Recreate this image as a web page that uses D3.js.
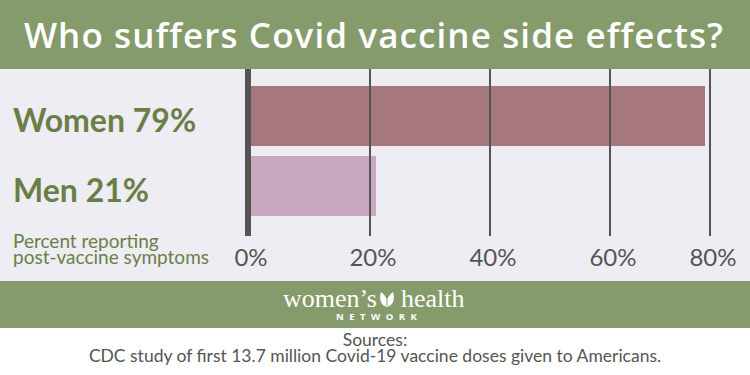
<!DOCTYPE html>
<html>
<head>
<meta charset="utf-8">
<script src="https://cdn.jsdelivr.net/npm/d3@7"></script>
<style>
  body { margin: 0; background: #fff; }
  svg { display: block; }
</style>
</head>
<body>
<div id="chart"></div>
<script>
// data
const categories = ["Women", "Men"];
const percents = [79, 21];
const tickValues = [0, 20, 40, 60, 80];
const titleText = "Who suffers Covid vaccine side effects?";
const axisNote = ["Percent reporting", "post-vaccine symptoms"];
const sourceLines = ["Sources:", "CDC study of first 13.7 million Covid-19 vaccine doses given to Americans."];

const W = 750, H = 375;
const green = "#869b6b";
const textGreen = "#6a7f47";
const gray = "#555555";
const barColors = ["#a6787e", "#c8a7bf"];

const svg = d3.select("#chart").append("svg")
  .attr("width", W)
  .attr("height", H);

// backgrounds
svg.append("rect").attr("x", 0).attr("y", 0).attr("width", W).attr("height", 69).attr("fill", green);
svg.append("rect").attr("x", 0).attr("y", 69).attr("width", W).attr("height", 212).attr("fill", "#eeedf3");
svg.append("rect").attr("x", 0).attr("y", 281).attr("width", W).attr("height", 47).attr("fill", green);

// title
svg.append("text")
  .attr("x", W / 2 - 1)
  .attr("y", 48)
  .attr("text-anchor", "middle")
  .style("font-family", "'Open Sans', sans-serif")
  .style("font-weight", 600)
  .style("font-size", "35px")
  .style("letter-spacing", "1.1px")
  .style("fill", "#fff")
  .text(titleText);

// scales (the graphic's gridlines are hand-spaced, so the x scale is piecewise)
const x = d3.scaleLinear()
  .domain(tickValues)
  .range([248, 370, 490, 610, 710]);

const y = d3.scaleBand()
  .domain(categories)
  .range([81, 221])
  .paddingInner(1 / 7)
  .paddingOuter(1 / 14);

const rows = categories.map((c, i) => ({ cat: c, pct: percents[i], color: barColors[i] }));

// bars
svg.selectAll(".bar")
  .data(rows)
  .enter().append("rect")
  .attr("class", "bar")
  .attr("x", x(0))
  .attr("y", d => y(d.cat))
  .attr("width", d => x(d.pct) - x(0))
  .attr("height", y.bandwidth())
  .attr("fill", d => d.color);

// gridlines
svg.selectAll(".grid")
  .data(tickValues.filter(t => t > 0))
  .enter().append("line")
  .attr("class", "grid")
  .attr("x1", d => x(d))
  .attr("x2", d => x(d))
  .attr("y1", 69)
  .attr("y2", 236)
  .attr("stroke", gray)
  .attr("stroke-width", 2);

// zero axis
svg.append("line")
  .attr("x1", x(0))
  .attr("x2", x(0))
  .attr("y1", 69)
  .attr("y2", 236)
  .attr("stroke", gray)
  .attr("stroke-width", 6);

// tick labels
svg.selectAll(".tick-label")
  .data(tickValues)
  .enter().append("text")
  .attr("class", "tick-label")
  .attr("x", d => x(d) + 3)
  .attr("y", 266)
  .attr("text-anchor", "middle")
  .style("font-family", "Lato, sans-serif")
  .style("font-size", "24px")
  .style("fill", gray)
  .text(d => d + "%");

// category labels
svg.selectAll(".cat-label")
  .data(rows)
  .enter().append("text")
  .attr("class", "cat-label")
  .attr("x", 13)
  .attr("y", d => y(d.cat) + y.bandwidth() / 2 + 16)
  .style("font-family", "Lato, sans-serif")
  .style("font-weight", 700)
  .style("font-size", "32px")
  .style("fill", textGreen)
  .text(d => `${d.cat} ${d.pct}%`);

// axis note (two lines in one text)
svg.append("text")
  .attr("class", "note")
  .attr("y", 247.5)
  .style("font-family", "Lato, sans-serif")
  .style("font-size", "19px")
  .style("fill", textGreen)
  .selectAll("tspan")
  .data(axisNote)
  .enter().append("tspan")
  .attr("x", 13)
  .attr("dy", (d, i) => i === 0 ? 0 : 16.8)
  .text(d => d);

// logo
const logo = svg.append("g");
const logoText = logo.append("text")
  .style("fill", "#fff");
logoText.append("tspan")
  .attr("x", 283)
  .attr("y", 307)
  .style("font-family", "'Liberation Serif', serif")
  .style("font-size", "26px")
  .text("women’s");
logoText.append("tspan")
  .attr("x", 401)
  .attr("y", 307)
  .style("font-family", "'Liberation Serif', serif")
  .style("font-size", "26px")
  .text("health");
logoText.append("tspan")
  .attr("x", 336)
  .attr("y", 320)
  .style("font-family", "'Open Sans', sans-serif")
  .style("font-weight", 700)
  .style("font-size", "9.5px")
  .style("letter-spacing", "5.5px")
  .text("NETWORK");
// leaf mark
logo.append("path")
  .attr("d", "M387,307 C380,305 379,298 381,292 C384,294 386,297 387,300 C388,297 390,294 393,292 C395,298 394,305 387,307 Z")
  .attr("fill", "#fff");
logo.append("path")
  .attr("d", "M387,306 L387,299")
  .attr("stroke", green)
  .attr("stroke-width", 1);

// sources (two lines in one text)
svg.append("text")
  .attr("class", "source")
  .attr("y", 345.5)
  .attr("text-anchor", "middle")
  .style("font-family", "Lato, sans-serif")
  .style("font-size", "17.5px")
  .style("fill", gray)
  .selectAll("tspan")
  .data(sourceLines)
  .enter().append("tspan")
  .attr("x", W / 2)
  .attr("dy", (d, i) => i === 0 ? 0 : 16.5)
  .text(d => d);
</script>
</body>
</html>
